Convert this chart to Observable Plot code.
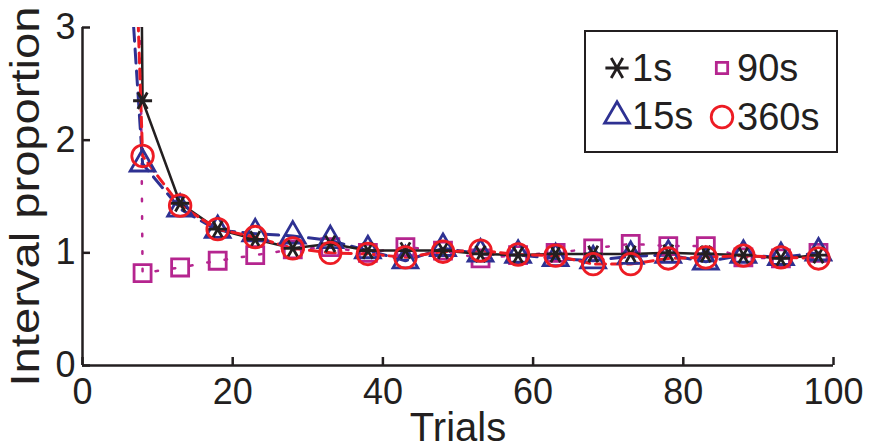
<!DOCTYPE html>
<html><head><meta charset="utf-8">
<script src="https://cdn.jsdelivr.net/npm/d3@7"></script>
<script src="https://cdn.jsdelivr.net/npm/@observablehq/plot@0.6"></script>
<style>
body{margin:0;background:#fff;}
#wrap{position:relative;width:880px;height:448px;font-family:"Liberation Sans",Arial,Helvetica,sans-serif;}
#legend{position:absolute;left:584px;top:30px;width:250px;height:119px;border:2.5px solid #231f20;background:#fff;}
.item{position:absolute;display:flex;align-items:center;height:40px;font-size:38px;line-height:40px;color:#231f20;white-space:nowrap;}
.item svg{flex:none;}
</style></head><body><div id="wrap"></div>
<script>
// Trial bins (x); the first bin lies above the plotted range and is clipped
const trials = [3, 8, 13, 18, 23, 28, 33, 38, 43, 48, 53, 58, 63, 68, 73, 78, 83, 88, 93, 98];
const series = ["1s", "15s", "90s", "360s"];
const v1s   = [40, 2.35, 1.44, 1.21, 1.12, 1.04, 1.08, 1.02, 1.02, 1.02, 0.99, 0.98, 0.99, 0.99, 0.99, 1.00, 0.99, 0.98, 0.95, 0.98];
const v15s  = [6.9, 1.79, 1.39, 1.20, 1.17, 1.15, 1.11, 1.02, 0.93, 1.04, 0.99, 0.98, 0.95, 0.93, 0.97, 0.98, 0.92, 0.98, 0.96, 1.00];
const v90s  = [40, 0.82, 0.87, 0.93, 0.98, 1.03, 1.05, 1.00, 1.05, 1.02, 0.95, 0.98, 1.00, 1.04, 1.08, 1.06, 1.06, 0.96, 0.95, 1.00];
const v360s = [12, 1.86, 1.42, 1.21, 1.14, 1.04, 1.00, 0.99, 0.96, 1.01, 1.02, 0.985, 0.975, 0.90, 0.90, 0.95, 0.96, 0.975, 0.96, 0.95];
const xTicks = [0, 20, 40, 60, 80, 100];
const yTicks = [0, 1, 2, 3];
const xLabel = "Trials";
const yLabel = "Interval proportion";

const values = {"1s": v1s, "15s": v15s, "90s": v90s, "360s": v360s};
const data = series.flatMap(s => trials.map((t, i) => ({series: s, trial: t, value: values[s][i]})));
const sel = s => data.filter(d => d.series === s);

const style = {
  "1s":   {color: "#231f20", dash: null,    sw: 2.5, symbol: "asterisk", r: 9,   rotate: 90},
  "15s":  {color: "#2e3192", dash: "14,8",  sw: 3,   symbol: "triangle", r: 9.2, rotate: 0},
  "90s":  {color: "#b5258f", dash: "2.5,15",sw: 2.5, symbol: "square",   r: 9.6, rotate: 0},
  "360s": {color: "#ed1c24", dash: "10,6",  sw: 3,   symbol: "circle",   r: 10.8, rotate: 0}
};
const lineOrder = ["90s", "15s", "1s", "360s"];
const dotOrder = ["90s", "15s", "1s", "360s"];

const marks = [];
for (const s of lineOrder) {
  const st = style[s];
  marks.push(Plot.line(sel(s), {x: "trial", y: "value", stroke: st.color, strokeWidth: st.sw,
    strokeDasharray: st.dash, clip: true}));
}
for (const s of dotOrder) {
  const st = style[s];
  marks.push(Plot.dot(sel(s), {x: "trial", y: "value", symbol: () => st.symbol, r: st.r,
    rotate: st.rotate, stroke: st.color, strokeWidth: 2.8, fill: "none", clip: true}));
}

const plot = Plot.plot({
  width: 880, height: 448,
  marginLeft: 82, marginRight: 47, marginTop: 27, marginBottom: 83,
  style: {fontFamily: '"Liberation Sans", Arial, Helvetica, sans-serif', fontSize: "36px", color: "#231f20", background: "#fff"},
  x: {domain: [0, 100]},
  y: {domain: [0, 3]},
  symbol: {type: "identity"},
  marks: [
    ...marks,
    Plot.ruleY([0], {stroke: "#231f20", strokeWidth: 2.5}),
    Plot.ruleX([0], {stroke: "#231f20", strokeWidth: 2.5}),
    Plot.axisX({ticks: xTicks, tickFormat: d => String(d), tickSize: -8, tickPadding: 21, strokeWidth: 2.5, label: xLabel,
      labelAnchor: "center", labelArrow: "none", labelOffset: 75}),
    Plot.axisY({ticks: yTicks, tickFormat: d => String(d), tickSize: -8, tickPadding: 15, strokeWidth: 2.5, label: yLabel,
      labelAnchor: "center", labelArrow: "none", labelOffset: 72})
  ]
});
document.getElementById("wrap").appendChild(plot);

// Label sizing
d3.select(plot).selectAll('[aria-label="x-axis label"] text').attr("font-size", 40);
d3.select(plot).selectAll('[aria-label="y-axis label"] text').attr("font-size", 40)
  .attr("textLength", 380).attr("lengthAdjust", "spacingAndGlyphs");

// Legend
const legend = d3.select("#wrap").append("div").attr("id", "legend");
const pos = {"1s": [602, 48], "90s": [707, 48], "15s": [602, 96], "360s": [707, 97]};
const symMap = {asterisk: d3.symbolAsterisk, triangle: d3.symbolTriangle, square: d3.symbolSquare, circle: d3.symbolCircle};
for (const s of series) {
  const st = style[s];
  const item = d3.select("#wrap").append("div").attr("class", "item")
    .style("left", pos[s][0] + "px").style("top", pos[s][1] + "px");
  const svg = item.append("svg").attr("width", 30).attr("height", 40);
  const legR = s === "90s" ? 6.4 : s === "1s" ? 11 : st.r;
  svg.append("path")
    .attr("d", d3.symbol(symMap[st.symbol], Math.PI * legR * legR)())
    .attr("transform", `translate(15,20) rotate(${st.rotate})`)
    .attr("fill", "none").attr("stroke", st.color).attr("stroke-width", 2.8);
  item.append("span").text(s);
}
</script></body></html>
